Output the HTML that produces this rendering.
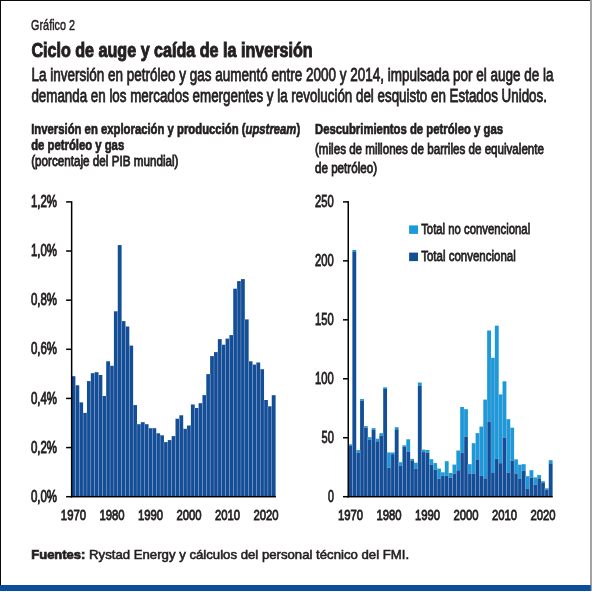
<!DOCTYPE html>
<html><head><meta charset="utf-8"><style>
html,body{margin:0;padding:0;background:#fff;}
svg{display:block;will-change:transform;}
text{font-family:"Liberation Sans",sans-serif;fill:#231f20;stroke:#231f20;stroke-width:0.8px;}
text[font-weight="bold"]{stroke-width:0.95px;}
text.src{stroke-width:0.55px;}
text.ax{stroke-width:0.85px;}
text.gr{stroke-width:0.5px;}
text.ct[font-weight="bold"]{stroke-width:0.7px;}
text.src[font-weight="bold"]{stroke-width:0.7px;}
</style></head><body>
<svg width="592" height="592" viewBox="0 0 592 592">
<rect x="0" y="0" width="592" height="592" fill="#fff"/>
<rect x="0" y="0" width="591" height="1" fill="#0a0a0a"/>
<rect x="0" y="0" width="1" height="591" fill="#0a0a0a"/>
<rect x="590" y="0" width="2" height="591" fill="#a3a3a3"/>
<rect x="0" y="585" width="590.8" height="6" fill="#0b4f9c"/>
<rect x="71.55" y="376.20" width="3.85" height="120.50" fill="#134f96"/>
<rect x="75.40" y="385.30" width="3.85" height="111.40" fill="#134f96"/>
<rect x="79.25" y="402.40" width="3.85" height="94.30" fill="#134f96"/>
<rect x="83.10" y="412.90" width="3.85" height="83.80" fill="#134f96"/>
<rect x="86.95" y="381.10" width="3.85" height="115.60" fill="#134f96"/>
<rect x="90.80" y="373.20" width="3.85" height="123.50" fill="#134f96"/>
<rect x="94.65" y="372.20" width="3.85" height="124.50" fill="#134f96"/>
<rect x="98.50" y="375.00" width="3.85" height="121.70" fill="#134f96"/>
<rect x="102.35" y="396.00" width="3.85" height="100.70" fill="#134f96"/>
<rect x="106.20" y="361.30" width="3.85" height="135.40" fill="#134f96"/>
<rect x="110.05" y="365.80" width="3.85" height="130.90" fill="#134f96"/>
<rect x="113.90" y="311.30" width="3.85" height="185.40" fill="#134f96"/>
<rect x="117.75" y="245.10" width="3.85" height="251.60" fill="#134f96"/>
<rect x="121.60" y="321.10" width="3.85" height="175.60" fill="#134f96"/>
<rect x="125.45" y="326.50" width="3.85" height="170.20" fill="#134f96"/>
<rect x="129.30" y="345.60" width="3.85" height="151.10" fill="#134f96"/>
<rect x="133.15" y="405.10" width="3.85" height="91.60" fill="#134f96"/>
<rect x="137.00" y="424.20" width="3.85" height="72.50" fill="#134f96"/>
<rect x="140.85" y="422.20" width="3.85" height="74.50" fill="#134f96"/>
<rect x="144.70" y="424.20" width="3.85" height="72.50" fill="#134f96"/>
<rect x="148.55" y="428.20" width="3.85" height="68.50" fill="#134f96"/>
<rect x="152.40" y="428.20" width="3.85" height="68.50" fill="#134f96"/>
<rect x="156.25" y="433.30" width="3.85" height="63.40" fill="#134f96"/>
<rect x="160.10" y="435.30" width="3.85" height="61.40" fill="#134f96"/>
<rect x="163.95" y="442.10" width="3.85" height="54.60" fill="#134f96"/>
<rect x="167.80" y="440.10" width="3.85" height="56.60" fill="#134f96"/>
<rect x="171.65" y="436.10" width="3.85" height="60.60" fill="#134f96"/>
<rect x="175.50" y="418.70" width="3.85" height="78.00" fill="#134f96"/>
<rect x="179.35" y="415.30" width="3.85" height="81.40" fill="#134f96"/>
<rect x="183.20" y="428.80" width="3.85" height="67.90" fill="#134f96"/>
<rect x="187.05" y="425.50" width="3.85" height="71.20" fill="#134f96"/>
<rect x="190.90" y="404.50" width="3.85" height="92.20" fill="#134f96"/>
<rect x="194.75" y="408.00" width="3.85" height="88.70" fill="#134f96"/>
<rect x="198.60" y="403.20" width="3.85" height="93.50" fill="#134f96"/>
<rect x="202.45" y="395.10" width="3.85" height="101.60" fill="#134f96"/>
<rect x="206.30" y="374.10" width="3.85" height="122.60" fill="#134f96"/>
<rect x="210.15" y="356.10" width="3.85" height="140.60" fill="#134f96"/>
<rect x="214.00" y="352.10" width="3.85" height="144.60" fill="#134f96"/>
<rect x="217.85" y="339.10" width="3.85" height="157.60" fill="#134f96"/>
<rect x="221.70" y="344.70" width="3.85" height="152.00" fill="#134f96"/>
<rect x="225.55" y="338.60" width="3.85" height="158.10" fill="#134f96"/>
<rect x="229.40" y="335.10" width="3.85" height="161.60" fill="#134f96"/>
<rect x="233.25" y="288.70" width="3.85" height="208.00" fill="#134f96"/>
<rect x="237.10" y="281.10" width="3.85" height="215.60" fill="#134f96"/>
<rect x="240.95" y="279.10" width="3.85" height="217.60" fill="#134f96"/>
<rect x="244.80" y="319.40" width="3.85" height="177.30" fill="#134f96"/>
<rect x="248.65" y="361.30" width="3.85" height="135.40" fill="#134f96"/>
<rect x="252.50" y="364.60" width="3.85" height="132.10" fill="#134f96"/>
<rect x="256.35" y="362.50" width="3.85" height="134.20" fill="#134f96"/>
<rect x="260.20" y="369.20" width="3.85" height="127.50" fill="#134f96"/>
<rect x="264.05" y="400.00" width="3.85" height="96.70" fill="#134f96"/>
<rect x="267.90" y="406.30" width="3.85" height="90.40" fill="#134f96"/>
<rect x="271.75" y="395.20" width="3.85" height="101.50" fill="#134f96"/>
<rect x="348.55" y="444.30" width="3.85" height="1.50" fill="#1a9ad8"/>
<rect x="348.55" y="445.80" width="3.85" height="50.90" fill="#134f96"/>
<rect x="352.40" y="249.90" width="3.85" height="1.50" fill="#1a9ad8"/>
<rect x="352.40" y="251.40" width="3.85" height="245.30" fill="#134f96"/>
<rect x="356.25" y="450.10" width="3.85" height="2.50" fill="#1a9ad8"/>
<rect x="356.25" y="452.60" width="3.85" height="44.10" fill="#134f96"/>
<rect x="360.10" y="399.00" width="3.85" height="1.80" fill="#1a9ad8"/>
<rect x="360.10" y="400.80" width="3.85" height="95.90" fill="#134f96"/>
<rect x="363.95" y="426.10" width="3.85" height="1.50" fill="#1a9ad8"/>
<rect x="363.95" y="427.60" width="3.85" height="69.10" fill="#134f96"/>
<rect x="367.80" y="437.20" width="3.85" height="2.60" fill="#1a9ad8"/>
<rect x="367.80" y="439.80" width="3.85" height="56.90" fill="#134f96"/>
<rect x="371.65" y="428.10" width="3.85" height="1.80" fill="#1a9ad8"/>
<rect x="371.65" y="429.90" width="3.85" height="66.80" fill="#134f96"/>
<rect x="375.50" y="438.70" width="3.85" height="2.60" fill="#1a9ad8"/>
<rect x="375.50" y="441.30" width="3.85" height="55.40" fill="#134f96"/>
<rect x="379.35" y="433.20" width="3.85" height="2.50" fill="#1a9ad8"/>
<rect x="379.35" y="435.70" width="3.85" height="61.00" fill="#134f96"/>
<rect x="383.20" y="387.30" width="3.85" height="1.70" fill="#1a9ad8"/>
<rect x="383.20" y="389.00" width="3.85" height="107.70" fill="#134f96"/>
<rect x="387.05" y="452.50" width="3.85" height="15.20" fill="#1a9ad8"/>
<rect x="387.05" y="467.70" width="3.85" height="29.00" fill="#134f96"/>
<rect x="390.90" y="452.50" width="3.85" height="1.70" fill="#1a9ad8"/>
<rect x="390.90" y="454.20" width="3.85" height="42.50" fill="#134f96"/>
<rect x="394.75" y="427.20" width="3.85" height="2.10" fill="#1a9ad8"/>
<rect x="394.75" y="429.30" width="3.85" height="67.40" fill="#134f96"/>
<rect x="398.60" y="462.20" width="3.85" height="3.40" fill="#1a9ad8"/>
<rect x="398.60" y="465.60" width="3.85" height="31.10" fill="#134f96"/>
<rect x="402.45" y="445.30" width="3.85" height="1.30" fill="#1a9ad8"/>
<rect x="402.45" y="446.60" width="3.85" height="50.10" fill="#134f96"/>
<rect x="406.30" y="439.30" width="3.85" height="12.40" fill="#1a9ad8"/>
<rect x="406.30" y="451.70" width="3.85" height="45.00" fill="#134f96"/>
<rect x="410.15" y="458.90" width="3.85" height="1.50" fill="#1a9ad8"/>
<rect x="410.15" y="460.40" width="3.85" height="36.30" fill="#134f96"/>
<rect x="414.00" y="462.70" width="3.85" height="5.90" fill="#1a9ad8"/>
<rect x="414.00" y="468.60" width="3.85" height="28.10" fill="#134f96"/>
<rect x="417.85" y="382.50" width="3.85" height="3.00" fill="#1a9ad8"/>
<rect x="417.85" y="385.50" width="3.85" height="111.20" fill="#134f96"/>
<rect x="421.70" y="449.60" width="3.85" height="2.50" fill="#1a9ad8"/>
<rect x="421.70" y="452.10" width="3.85" height="44.60" fill="#134f96"/>
<rect x="425.55" y="450.00" width="3.85" height="2.60" fill="#1a9ad8"/>
<rect x="425.55" y="452.60" width="3.85" height="44.10" fill="#134f96"/>
<rect x="429.40" y="459.20" width="3.85" height="5.60" fill="#1a9ad8"/>
<rect x="429.40" y="464.80" width="3.85" height="31.90" fill="#134f96"/>
<rect x="433.25" y="463.10" width="3.85" height="6.50" fill="#1a9ad8"/>
<rect x="433.25" y="469.60" width="3.85" height="27.10" fill="#134f96"/>
<rect x="437.10" y="468.60" width="3.85" height="10.00" fill="#1a9ad8"/>
<rect x="437.10" y="478.60" width="3.85" height="18.10" fill="#134f96"/>
<rect x="440.95" y="472.30" width="3.85" height="3.40" fill="#1a9ad8"/>
<rect x="440.95" y="475.70" width="3.85" height="21.00" fill="#134f96"/>
<rect x="444.80" y="461.20" width="3.85" height="14.50" fill="#1a9ad8"/>
<rect x="444.80" y="475.70" width="3.85" height="21.00" fill="#134f96"/>
<rect x="448.65" y="473.00" width="3.85" height="4.70" fill="#1a9ad8"/>
<rect x="448.65" y="477.70" width="3.85" height="19.00" fill="#134f96"/>
<rect x="452.50" y="464.60" width="3.85" height="9.00" fill="#1a9ad8"/>
<rect x="452.50" y="473.60" width="3.85" height="23.10" fill="#134f96"/>
<rect x="456.35" y="450.50" width="3.85" height="19.80" fill="#1a9ad8"/>
<rect x="456.35" y="470.30" width="3.85" height="26.40" fill="#134f96"/>
<rect x="460.20" y="407.00" width="3.85" height="45.60" fill="#1a9ad8"/>
<rect x="460.20" y="452.60" width="3.85" height="44.10" fill="#134f96"/>
<rect x="464.05" y="409.20" width="3.85" height="27.30" fill="#1a9ad8"/>
<rect x="464.05" y="436.50" width="3.85" height="60.20" fill="#134f96"/>
<rect x="467.90" y="464.20" width="3.85" height="9.40" fill="#1a9ad8"/>
<rect x="467.90" y="473.60" width="3.85" height="23.10" fill="#134f96"/>
<rect x="471.75" y="443.20" width="3.85" height="30.40" fill="#1a9ad8"/>
<rect x="471.75" y="473.60" width="3.85" height="23.10" fill="#134f96"/>
<rect x="475.60" y="433.10" width="3.85" height="26.40" fill="#1a9ad8"/>
<rect x="475.60" y="459.50" width="3.85" height="37.20" fill="#134f96"/>
<rect x="479.45" y="426.60" width="3.85" height="49.10" fill="#1a9ad8"/>
<rect x="479.45" y="475.70" width="3.85" height="21.00" fill="#134f96"/>
<rect x="483.30" y="399.60" width="3.85" height="78.80" fill="#1a9ad8"/>
<rect x="483.30" y="478.40" width="3.85" height="18.30" fill="#134f96"/>
<rect x="487.15" y="330.50" width="3.85" height="91.10" fill="#1a9ad8"/>
<rect x="487.15" y="421.60" width="3.85" height="75.10" fill="#134f96"/>
<rect x="491.00" y="357.80" width="3.85" height="115.20" fill="#1a9ad8"/>
<rect x="491.00" y="473.00" width="3.85" height="23.70" fill="#134f96"/>
<rect x="494.85" y="325.70" width="3.85" height="133.10" fill="#1a9ad8"/>
<rect x="494.85" y="458.80" width="3.85" height="37.90" fill="#134f96"/>
<rect x="498.70" y="394.40" width="3.85" height="68.80" fill="#1a9ad8"/>
<rect x="498.70" y="463.20" width="3.85" height="33.50" fill="#134f96"/>
<rect x="502.55" y="381.30" width="3.85" height="56.20" fill="#1a9ad8"/>
<rect x="502.55" y="437.50" width="3.85" height="59.20" fill="#134f96"/>
<rect x="506.40" y="419.20" width="3.85" height="53.30" fill="#1a9ad8"/>
<rect x="506.40" y="472.50" width="3.85" height="24.20" fill="#134f96"/>
<rect x="510.25" y="427.70" width="3.85" height="33.00" fill="#1a9ad8"/>
<rect x="510.25" y="460.70" width="3.85" height="36.00" fill="#134f96"/>
<rect x="514.10" y="459.40" width="3.85" height="14.10" fill="#1a9ad8"/>
<rect x="514.10" y="473.50" width="3.85" height="23.20" fill="#134f96"/>
<rect x="517.95" y="464.70" width="3.85" height="13.80" fill="#1a9ad8"/>
<rect x="517.95" y="478.50" width="3.85" height="18.20" fill="#134f96"/>
<rect x="521.80" y="464.20" width="3.85" height="6.40" fill="#1a9ad8"/>
<rect x="521.80" y="470.60" width="3.85" height="26.10" fill="#134f96"/>
<rect x="525.65" y="476.20" width="3.85" height="12.30" fill="#1a9ad8"/>
<rect x="525.65" y="488.50" width="3.85" height="8.20" fill="#134f96"/>
<rect x="529.50" y="470.20" width="3.85" height="7.40" fill="#1a9ad8"/>
<rect x="529.50" y="477.60" width="3.85" height="19.10" fill="#134f96"/>
<rect x="533.35" y="477.40" width="3.85" height="7.20" fill="#1a9ad8"/>
<rect x="533.35" y="484.60" width="3.85" height="12.10" fill="#134f96"/>
<rect x="537.20" y="475.10" width="3.85" height="3.40" fill="#1a9ad8"/>
<rect x="537.20" y="478.50" width="3.85" height="18.20" fill="#134f96"/>
<rect x="541.05" y="481.20" width="3.85" height="1.30" fill="#1a9ad8"/>
<rect x="541.05" y="482.50" width="3.85" height="14.20" fill="#134f96"/>
<rect x="544.90" y="488.30" width="3.85" height="1.40" fill="#1a9ad8"/>
<rect x="544.90" y="489.70" width="3.85" height="7.00" fill="#134f96"/>
<rect x="548.75" y="460.20" width="3.85" height="3.20" fill="#1a9ad8"/>
<rect x="548.75" y="463.40" width="3.85" height="33.30" fill="#134f96"/>
<rect x="75.17" y="385.30" width="0.45" height="111.40" fill="#a4a6d4"/>
<rect x="352.18" y="444.30" width="0.45" height="52.40" fill="#a4a6d4"/>
<rect x="79.03" y="402.40" width="0.45" height="94.30" fill="#a4a6d4"/>
<rect x="356.02" y="450.10" width="0.45" height="46.60" fill="#a4a6d4"/>
<rect x="82.88" y="412.90" width="0.45" height="83.80" fill="#a4a6d4"/>
<rect x="359.88" y="450.10" width="0.45" height="46.60" fill="#a4a6d4"/>
<rect x="86.73" y="412.90" width="0.45" height="83.80" fill="#a4a6d4"/>
<rect x="363.72" y="426.10" width="0.45" height="70.60" fill="#a4a6d4"/>
<rect x="90.58" y="381.10" width="0.45" height="115.60" fill="#a4a6d4"/>
<rect x="367.57" y="437.20" width="0.45" height="59.50" fill="#a4a6d4"/>
<rect x="94.43" y="373.20" width="0.45" height="123.50" fill="#a4a6d4"/>
<rect x="371.43" y="437.20" width="0.45" height="59.50" fill="#a4a6d4"/>
<rect x="98.28" y="375.00" width="0.45" height="121.70" fill="#a4a6d4"/>
<rect x="375.27" y="438.70" width="0.45" height="58.00" fill="#a4a6d4"/>
<rect x="102.12" y="396.00" width="0.45" height="100.70" fill="#a4a6d4"/>
<rect x="379.12" y="438.70" width="0.45" height="58.00" fill="#a4a6d4"/>
<rect x="105.97" y="396.00" width="0.45" height="100.70" fill="#a4a6d4"/>
<rect x="382.97" y="433.20" width="0.45" height="63.50" fill="#a4a6d4"/>
<rect x="109.83" y="365.80" width="0.45" height="130.90" fill="#a4a6d4"/>
<rect x="386.82" y="452.50" width="0.45" height="44.20" fill="#a4a6d4"/>
<rect x="113.68" y="365.80" width="0.45" height="130.90" fill="#a4a6d4"/>
<rect x="390.68" y="452.50" width="0.45" height="44.20" fill="#a4a6d4"/>
<rect x="117.53" y="311.30" width="0.45" height="185.40" fill="#a4a6d4"/>
<rect x="394.52" y="452.50" width="0.45" height="44.20" fill="#a4a6d4"/>
<rect x="121.38" y="321.10" width="0.45" height="175.60" fill="#a4a6d4"/>
<rect x="398.38" y="462.20" width="0.45" height="34.50" fill="#a4a6d4"/>
<rect x="125.22" y="326.50" width="0.45" height="170.20" fill="#a4a6d4"/>
<rect x="402.22" y="462.20" width="0.45" height="34.50" fill="#a4a6d4"/>
<rect x="129.08" y="345.60" width="0.45" height="151.10" fill="#a4a6d4"/>
<rect x="406.07" y="445.30" width="0.45" height="51.40" fill="#a4a6d4"/>
<rect x="132.93" y="405.10" width="0.45" height="91.60" fill="#a4a6d4"/>
<rect x="409.93" y="458.90" width="0.45" height="37.80" fill="#a4a6d4"/>
<rect x="136.78" y="424.20" width="0.45" height="72.50" fill="#a4a6d4"/>
<rect x="413.77" y="462.70" width="0.45" height="34.00" fill="#a4a6d4"/>
<rect x="140.62" y="424.20" width="0.45" height="72.50" fill="#a4a6d4"/>
<rect x="417.62" y="462.70" width="0.45" height="34.00" fill="#a4a6d4"/>
<rect x="144.47" y="424.20" width="0.45" height="72.50" fill="#a4a6d4"/>
<rect x="421.48" y="449.60" width="0.45" height="47.10" fill="#a4a6d4"/>
<rect x="148.33" y="428.20" width="0.45" height="68.50" fill="#a4a6d4"/>
<rect x="425.32" y="450.00" width="0.45" height="46.70" fill="#a4a6d4"/>
<rect x="152.18" y="428.20" width="0.45" height="68.50" fill="#a4a6d4"/>
<rect x="429.18" y="459.20" width="0.45" height="37.50" fill="#a4a6d4"/>
<rect x="156.03" y="433.30" width="0.45" height="63.40" fill="#a4a6d4"/>
<rect x="433.02" y="463.10" width="0.45" height="33.60" fill="#a4a6d4"/>
<rect x="159.88" y="435.30" width="0.45" height="61.40" fill="#a4a6d4"/>
<rect x="436.88" y="468.60" width="0.45" height="28.10" fill="#a4a6d4"/>
<rect x="163.72" y="442.10" width="0.45" height="54.60" fill="#a4a6d4"/>
<rect x="440.73" y="472.30" width="0.45" height="24.40" fill="#a4a6d4"/>
<rect x="167.58" y="442.10" width="0.45" height="54.60" fill="#a4a6d4"/>
<rect x="444.57" y="472.30" width="0.45" height="24.40" fill="#a4a6d4"/>
<rect x="171.43" y="440.10" width="0.45" height="56.60" fill="#a4a6d4"/>
<rect x="448.43" y="473.00" width="0.45" height="23.70" fill="#a4a6d4"/>
<rect x="175.28" y="436.10" width="0.45" height="60.60" fill="#a4a6d4"/>
<rect x="452.27" y="473.00" width="0.45" height="23.70" fill="#a4a6d4"/>
<rect x="179.12" y="418.70" width="0.45" height="78.00" fill="#a4a6d4"/>
<rect x="456.12" y="464.60" width="0.45" height="32.10" fill="#a4a6d4"/>
<rect x="182.97" y="428.80" width="0.45" height="67.90" fill="#a4a6d4"/>
<rect x="459.98" y="450.50" width="0.45" height="46.20" fill="#a4a6d4"/>
<rect x="186.83" y="428.80" width="0.45" height="67.90" fill="#a4a6d4"/>
<rect x="463.82" y="409.20" width="0.45" height="87.50" fill="#a4a6d4"/>
<rect x="190.68" y="425.50" width="0.45" height="71.20" fill="#a4a6d4"/>
<rect x="467.68" y="464.20" width="0.45" height="32.50" fill="#a4a6d4"/>
<rect x="194.53" y="408.00" width="0.45" height="88.70" fill="#a4a6d4"/>
<rect x="471.52" y="464.20" width="0.45" height="32.50" fill="#a4a6d4"/>
<rect x="198.38" y="408.00" width="0.45" height="88.70" fill="#a4a6d4"/>
<rect x="475.38" y="443.20" width="0.45" height="53.50" fill="#a4a6d4"/>
<rect x="202.22" y="403.20" width="0.45" height="93.50" fill="#a4a6d4"/>
<rect x="479.23" y="433.10" width="0.45" height="63.60" fill="#a4a6d4"/>
<rect x="206.08" y="395.10" width="0.45" height="101.60" fill="#a4a6d4"/>
<rect x="483.07" y="426.60" width="0.45" height="70.10" fill="#a4a6d4"/>
<rect x="209.92" y="374.10" width="0.45" height="122.60" fill="#a4a6d4"/>
<rect x="486.92" y="399.60" width="0.45" height="97.10" fill="#a4a6d4"/>
<rect x="213.78" y="356.10" width="0.45" height="140.60" fill="#a4a6d4"/>
<rect x="490.77" y="357.80" width="0.45" height="138.90" fill="#a4a6d4"/>
<rect x="217.63" y="352.10" width="0.45" height="144.60" fill="#a4a6d4"/>
<rect x="494.62" y="357.80" width="0.45" height="138.90" fill="#a4a6d4"/>
<rect x="221.47" y="344.70" width="0.45" height="152.00" fill="#a4a6d4"/>
<rect x="498.48" y="394.40" width="0.45" height="102.30" fill="#a4a6d4"/>
<rect x="225.33" y="344.70" width="0.45" height="152.00" fill="#a4a6d4"/>
<rect x="502.32" y="394.40" width="0.45" height="102.30" fill="#a4a6d4"/>
<rect x="229.17" y="338.60" width="0.45" height="158.10" fill="#a4a6d4"/>
<rect x="506.17" y="419.20" width="0.45" height="77.50" fill="#a4a6d4"/>
<rect x="233.03" y="335.10" width="0.45" height="161.60" fill="#a4a6d4"/>
<rect x="510.02" y="427.70" width="0.45" height="69.00" fill="#a4a6d4"/>
<rect x="236.88" y="288.70" width="0.45" height="208.00" fill="#a4a6d4"/>
<rect x="513.88" y="459.40" width="0.45" height="37.30" fill="#a4a6d4"/>
<rect x="240.72" y="281.10" width="0.45" height="215.60" fill="#a4a6d4"/>
<rect x="517.73" y="464.70" width="0.45" height="32.00" fill="#a4a6d4"/>
<rect x="244.58" y="319.40" width="0.45" height="177.30" fill="#a4a6d4"/>
<rect x="521.57" y="464.70" width="0.45" height="32.00" fill="#a4a6d4"/>
<rect x="248.42" y="361.30" width="0.45" height="135.40" fill="#a4a6d4"/>
<rect x="525.42" y="476.20" width="0.45" height="20.50" fill="#a4a6d4"/>
<rect x="252.28" y="364.60" width="0.45" height="132.10" fill="#a4a6d4"/>
<rect x="529.27" y="476.20" width="0.45" height="20.50" fill="#a4a6d4"/>
<rect x="256.12" y="364.60" width="0.45" height="132.10" fill="#a4a6d4"/>
<rect x="533.12" y="477.40" width="0.45" height="19.30" fill="#a4a6d4"/>
<rect x="259.97" y="369.20" width="0.45" height="127.50" fill="#a4a6d4"/>
<rect x="536.98" y="477.40" width="0.45" height="19.30" fill="#a4a6d4"/>
<rect x="263.82" y="400.00" width="0.45" height="96.70" fill="#a4a6d4"/>
<rect x="540.82" y="481.20" width="0.45" height="15.50" fill="#a4a6d4"/>
<rect x="267.67" y="406.30" width="0.45" height="90.40" fill="#a4a6d4"/>
<rect x="544.67" y="488.30" width="0.45" height="8.40" fill="#a4a6d4"/>
<rect x="271.52" y="406.30" width="0.45" height="90.40" fill="#a4a6d4"/>
<rect x="548.52" y="488.30" width="0.45" height="8.40" fill="#a4a6d4"/>
<rect x="70.9" y="201.2" width="1.5" height="296.25" fill="#000"/>
<rect x="70.9" y="495.95" width="205.00" height="1.5" fill="#000"/>
<rect x="66.1" y="495.95" width="5.5" height="1.5" fill="#000"/>
<rect x="66.1" y="446.82" width="5.5" height="1.5" fill="#000"/>
<rect x="66.1" y="397.68" width="5.5" height="1.5" fill="#000"/>
<rect x="66.1" y="348.55" width="5.5" height="1.5" fill="#000"/>
<rect x="66.1" y="299.42" width="5.5" height="1.5" fill="#000"/>
<rect x="66.1" y="250.28" width="5.5" height="1.5" fill="#000"/>
<rect x="66.1" y="201.15" width="5.5" height="1.5" fill="#000"/>
<rect x="347.5" y="201.2" width="1.5" height="296.25" fill="#000"/>
<rect x="347.5" y="495.95" width="205.20" height="1.5" fill="#000"/>
<rect x="343.0" y="495.95" width="5.5" height="1.5" fill="#000"/>
<rect x="343.0" y="436.99" width="5.5" height="1.5" fill="#000"/>
<rect x="343.0" y="378.03" width="5.5" height="1.5" fill="#000"/>
<rect x="343.0" y="319.07" width="5.5" height="1.5" fill="#000"/>
<rect x="343.0" y="260.11" width="5.5" height="1.5" fill="#000"/>
<rect x="343.0" y="201.15" width="5.5" height="1.5" fill="#000"/>
<text class="gr" x="31.10" y="29.80" font-size="15.2" font-weight="normal" text-anchor="start" font-style="normal" textLength="43.90" lengthAdjust="spacingAndGlyphs">Gráfico 2</text>
<text class="" x="31.40" y="57.40" font-size="19.4" font-weight="bold" text-anchor="start" font-style="normal" textLength="281.20" lengthAdjust="spacingAndGlyphs">Ciclo de auge y caída de la inversión</text>
<text class="" x="31.60" y="80.90" font-size="18.0" font-weight="normal" text-anchor="start" font-style="normal" textLength="522.00" lengthAdjust="spacingAndGlyphs">La inversión en petróleo y gas aumentó entre 2000 y 2014, impulsada por el auge de la</text>
<text class="" x="31.40" y="101.90" font-size="18.0" font-weight="normal" text-anchor="start" font-style="normal" textLength="515.50" lengthAdjust="spacingAndGlyphs">demanda en los mercados emergentes y la revolución del esquisto en Estados Unidos.</text>
<text class="ct" x="31.20" y="133.90" font-size="15.0" font-weight="bold" text-anchor="start" font-style="normal" textLength="269.00" lengthAdjust="spacingAndGlyphs">Inversión en exploración y producción (<tspan font-style="italic">upstream</tspan>)</text>
<text class="ct" x="31.20" y="149.50" font-size="15.0" font-weight="bold" text-anchor="start" font-style="normal" textLength="93.00" lengthAdjust="spacingAndGlyphs">de petróleo y gas</text>
<text class="" x="31.20" y="166.30" font-size="14.0" font-weight="normal" text-anchor="start" font-style="normal" textLength="147.30" lengthAdjust="spacingAndGlyphs">(porcentaje del PIB mundial)</text>
<text class="ct" x="315.00" y="133.90" font-size="15.0" font-weight="bold" text-anchor="start" font-style="normal" textLength="188.00" lengthAdjust="spacingAndGlyphs">Descubrimientos de petróleo y gas</text>
<text class="" x="315.00" y="153.50" font-size="14.0" font-weight="normal" text-anchor="start" font-style="normal" textLength="229.00" lengthAdjust="spacingAndGlyphs">(miles de millones de barriles de equivalente</text>
<text class="" x="315.00" y="173.20" font-size="14.0" font-weight="normal" text-anchor="start" font-style="normal" textLength="62.00" lengthAdjust="spacingAndGlyphs">de petróleo)</text>
<text class="ax" x="30.90" y="501.80" font-size="15.6" font-weight="normal" text-anchor="start" font-style="normal" textLength="26.20" lengthAdjust="spacingAndGlyphs">0,0%</text>
<text class="ax" x="30.90" y="452.67" font-size="15.6" font-weight="normal" text-anchor="start" font-style="normal" textLength="26.20" lengthAdjust="spacingAndGlyphs">0,2%</text>
<text class="ax" x="30.90" y="403.53" font-size="15.6" font-weight="normal" text-anchor="start" font-style="normal" textLength="26.20" lengthAdjust="spacingAndGlyphs">0,4%</text>
<text class="ax" x="30.90" y="354.40" font-size="15.6" font-weight="normal" text-anchor="start" font-style="normal" textLength="26.20" lengthAdjust="spacingAndGlyphs">0,6%</text>
<text class="ax" x="30.90" y="305.27" font-size="15.6" font-weight="normal" text-anchor="start" font-style="normal" textLength="26.20" lengthAdjust="spacingAndGlyphs">0,8%</text>
<text class="ax" x="30.90" y="256.13" font-size="15.6" font-weight="normal" text-anchor="start" font-style="normal" textLength="26.20" lengthAdjust="spacingAndGlyphs">1,0%</text>
<text class="ax" x="30.90" y="207.00" font-size="15.6" font-weight="normal" text-anchor="start" font-style="normal" textLength="26.20" lengthAdjust="spacingAndGlyphs">1,2%</text>
<text class="ax" x="327.90" y="501.80" font-size="15.6" font-weight="normal" text-anchor="start" font-style="normal" textLength="5.90" lengthAdjust="spacingAndGlyphs">0</text>
<text class="ax" x="321.50" y="442.84" font-size="15.6" font-weight="normal" text-anchor="start" font-style="normal" textLength="12.30" lengthAdjust="spacingAndGlyphs">50</text>
<text class="ax" x="315.10" y="383.88" font-size="15.6" font-weight="normal" text-anchor="start" font-style="normal" textLength="18.70" lengthAdjust="spacingAndGlyphs">100</text>
<text class="ax" x="315.10" y="324.92" font-size="15.6" font-weight="normal" text-anchor="start" font-style="normal" textLength="18.70" lengthAdjust="spacingAndGlyphs">150</text>
<text class="ax" x="315.10" y="265.96" font-size="15.6" font-weight="normal" text-anchor="start" font-style="normal" textLength="18.70" lengthAdjust="spacingAndGlyphs">200</text>
<text class="ax" x="315.10" y="207.00" font-size="15.6" font-weight="normal" text-anchor="start" font-style="normal" textLength="18.70" lengthAdjust="spacingAndGlyphs">250</text>
<text class="ax" x="60.87" y="520.30" font-size="15.0" font-weight="normal" text-anchor="start" font-style="normal" textLength="25.20" lengthAdjust="spacingAndGlyphs">1970</text>
<text class="ax" x="337.88" y="520.30" font-size="15.0" font-weight="normal" text-anchor="start" font-style="normal" textLength="25.20" lengthAdjust="spacingAndGlyphs">1970</text>
<text class="ax" x="99.38" y="520.30" font-size="15.0" font-weight="normal" text-anchor="start" font-style="normal" textLength="25.20" lengthAdjust="spacingAndGlyphs">1980</text>
<text class="ax" x="376.38" y="520.30" font-size="15.0" font-weight="normal" text-anchor="start" font-style="normal" textLength="25.20" lengthAdjust="spacingAndGlyphs">1980</text>
<text class="ax" x="137.88" y="520.30" font-size="15.0" font-weight="normal" text-anchor="start" font-style="normal" textLength="25.20" lengthAdjust="spacingAndGlyphs">1990</text>
<text class="ax" x="414.88" y="520.30" font-size="15.0" font-weight="normal" text-anchor="start" font-style="normal" textLength="25.20" lengthAdjust="spacingAndGlyphs">1990</text>
<text class="ax" x="176.38" y="520.30" font-size="15.0" font-weight="normal" text-anchor="start" font-style="normal" textLength="25.20" lengthAdjust="spacingAndGlyphs">2000</text>
<text class="ax" x="453.38" y="520.30" font-size="15.0" font-weight="normal" text-anchor="start" font-style="normal" textLength="25.20" lengthAdjust="spacingAndGlyphs">2000</text>
<text class="ax" x="214.88" y="520.30" font-size="15.0" font-weight="normal" text-anchor="start" font-style="normal" textLength="25.20" lengthAdjust="spacingAndGlyphs">2010</text>
<text class="ax" x="491.88" y="520.30" font-size="15.0" font-weight="normal" text-anchor="start" font-style="normal" textLength="25.20" lengthAdjust="spacingAndGlyphs">2010</text>
<text class="ax" x="253.38" y="520.30" font-size="15.0" font-weight="normal" text-anchor="start" font-style="normal" textLength="25.20" lengthAdjust="spacingAndGlyphs">2020</text>
<text class="ax" x="530.38" y="520.30" font-size="15.0" font-weight="normal" text-anchor="start" font-style="normal" textLength="25.20" lengthAdjust="spacingAndGlyphs">2020</text>
<rect x="409.1" y="225.4" width="8.9" height="8.5" fill="#1a9ad8"/>
<rect x="409.1" y="252.6" width="8.9" height="8.5" fill="#134f96"/>
<text class="" x="421.20" y="233.90" font-size="15.4" font-weight="normal" text-anchor="start" font-style="normal" textLength="109.00" lengthAdjust="spacingAndGlyphs">Total no convencional</text>
<text class="" x="421.20" y="260.70" font-size="15.4" font-weight="normal" text-anchor="start" font-style="normal" textLength="94.60" lengthAdjust="spacingAndGlyphs">Total convencional</text>
<text class="src" x="31.3" y="558.8" font-size="12.4" font-weight="bold" textLength="54" lengthAdjust="spacingAndGlyphs">Fuentes:</text>
<text class="src" x="89.1" y="558.8" font-size="12.4" textLength="320" lengthAdjust="spacingAndGlyphs">Rystad Energy y cálculos del personal técnico del FMI.</text>
</svg>
</body></html>
